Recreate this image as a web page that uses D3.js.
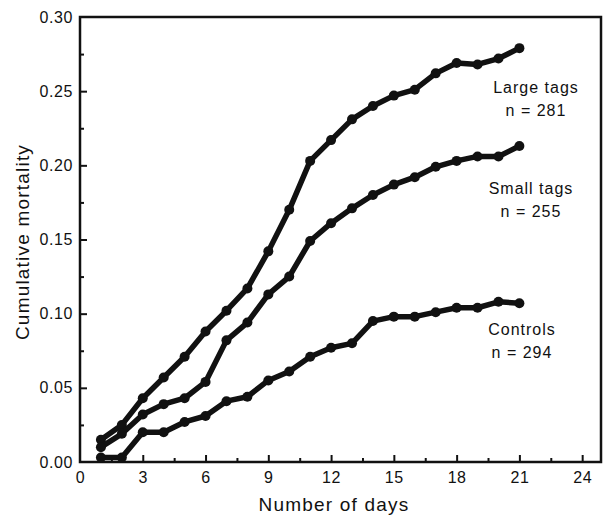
<!DOCTYPE html>
<html>
<head>
<meta charset="utf-8">
<script src="https://cdn.jsdelivr.net/npm/d3@7"></script>
<style>
  body { margin: 0; background: #fff; }
  text { font-family: "Liberation Sans", Arial, sans-serif; fill: #111; }
</style>
</head>
<body>
<svg class="mainSvg" width="603" height="515"></svg>
<script>
// cumulative mortality by day
var days = [1,2,3,4,5,6,7,8,9,10,11,12,13,14,15,16,17,18,19,20,21];
var largeTags = [0.015,0.025,0.043,0.057,0.071,0.088,0.102,0.117,0.142,0.170,0.203,0.217,0.231,0.240,0.247,0.251,0.262,0.269,0.268,0.272,0.279];
var smallTags = [0.010,0.019,0.032,0.039,0.043,0.054,0.082,0.094,0.113,0.125,0.149,0.161,0.171,0.180,0.187,0.192,0.199,0.203,0.206,0.206,0.213];
var controls  = [0.003,0.003,0.020,0.020,0.027,0.031,0.041,0.044,0.055,0.061,0.071,0.077,0.080,0.095,0.098,0.098,0.101,0.104,0.104,0.108,0.107];
var xTicks = [0,3,6,9,12,15,18,21,24];
var xMinor = [1.5,4.5,7.5,10.5,13.5,16.5,19.5,22.5];
var yTicks = [0,0.05,0.10,0.15,0.20,0.25,0.30];
var yMinor = [0.025,0.075,0.125,0.175,0.225,0.275];
var labels = [
  {name: "Large tags", n: "n = 281", x: 536, y: 93},
  {name: "Small tags", n: "n = 255", x: 531, y: 194},
  {name: "Controls",   n: "n = 294", x: 522, y: 335}
];

var plotLeft = 80, plotRight = 601, plotTop = 17, plotBottom = 462;
var svg = d3.select(".mainSvg");

var x = d3.scaleLinear().domain([0, 24.9]).range([plotLeft, plotRight]);
var y = d3.scaleLinear().domain([0, 0.30]).range([plotBottom, plotTop]);

// frame
svg.append("rect")
  .attr("x", plotLeft).attr("y", plotTop)
  .attr("width", plotRight - plotLeft).attr("height", plotBottom - plotTop)
  .attr("fill", "none").attr("stroke", "#111").attr("stroke-width", 2.5);

var xAxis = svg.append("g").attr("transform", "translate(0," + plotBottom + ")")
  .call(d3.axisBottom(x).tickValues(xTicks).tickSize(-7).tickPadding(10).tickFormat(d3.format("d")));
var xAxisMinor = svg.append("g").attr("transform", "translate(0," + plotBottom + ")")
  .call(d3.axisBottom(x).tickValues(xMinor).tickSize(-4).tickFormat(""));
var yAxis = svg.append("g").attr("transform", "translate(" + plotLeft + ",0)")
  .call(d3.axisLeft(y).tickValues(yTicks).tickSize(-7).tickPadding(7).tickFormat(d3.format(".2f")));
var yAxisMinor = svg.append("g").attr("transform", "translate(" + plotLeft + ",0)")
  .call(d3.axisLeft(y).tickValues(yMinor).tickSize(-4).tickFormat(""));

svg.selectAll(".domain").remove();
svg.selectAll(".tick line").attr("stroke", "#111").attr("stroke-width", 2);
svg.selectAll(".tick text")
  .style("font-size", "16px").style("letter-spacing", "0.6px")
  .style("font-family", "'Liberation Sans', Arial, sans-serif").attr("fill", "#111");
xAxis.selectAll(".tick").filter(function(d){ return d === 0; }).select("line").remove();
yAxis.selectAll(".tick").filter(function(d){ return d === 0 || d === 0.30; }).select("line").remove();

var line = d3.line()
  .x(function(d){ return x(d[0]); })
  .y(function(d){ return y(d[1]); });

[largeTags, smallTags, controls].forEach(function(series){
  var pts = days.map(function(d, i){ return [d, series[i]]; });
  svg.append("path").datum(pts)
    .attr("d", line).attr("fill", "none")
    .attr("stroke", "#111").attr("stroke-width", 5.5)
    .attr("stroke-linejoin", "round").attr("stroke-linecap", "round");
  svg.append("g").selectAll("circle").data(pts).enter().append("circle")
    .attr("cx", function(d){ return x(d[0]); })
    .attr("cy", function(d){ return y(d[1]); })
    .attr("r", 5).attr("fill", "#111");
});

labels.forEach(function(l){
  svg.append("text").attr("x", l.x).attr("y", l.y).attr("text-anchor", "middle")
    .style("font-size", "16px").style("letter-spacing", "1px").text(l.name);
  svg.append("text").attr("x", l.x).attr("y", l.y + 23).attr("text-anchor", "middle")
    .style("font-size", "16px").style("letter-spacing", "1px").text(l.n);
});

// axis titles
svg.append("text").attr("x", 334).attr("y", 511).attr("text-anchor", "middle")
  .style("font-size", "19px").style("letter-spacing", "1.2px").text("Number of days");
svg.append("text").attr("transform", "translate(29,242) rotate(-90)").attr("text-anchor", "middle")
  .style("font-size", "19px").style("letter-spacing", "1.2px").text("Cumulative mortality");
</script>
</body>
</html>
